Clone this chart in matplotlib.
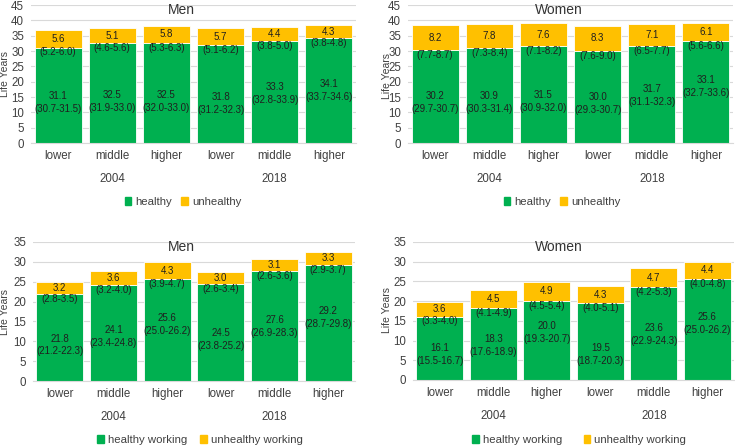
import matplotlib
matplotlib.use('Agg')
import matplotlib.pyplot as plt
from matplotlib.patches import Patch

W, H = 735, 447

categories = ['lower', 'middle', 'higher', 'lower', 'middle', 'higher']
years = ['2004', '2018']

# life expectancy split into healthy / unhealthy years (with 95% CI)
men_healthy = [31.1, 32.5, 32.5, 31.8, 33.3, 34.1]
men_healthy_ci = ['30.7-31.5', '31.9-33.0', '32.0-33.0', '31.2-32.3', '32.8-33.9', '33.7-34.6']
men_unhealthy = [5.6, 5.1, 5.8, 5.7, 4.4, 4.3]
men_unhealthy_ci = ['5.2-6.0', '4.6-5.6', '5.3-6.3', '5.1-6.2', '3.8-5.0', '3.8-4.8']

women_healthy = [30.2, 30.9, 31.5, 30.0, 31.7, 33.1]
women_healthy_ci = ['29.7-30.7', '30.3-31.4', '30.9-32.0', '29.3-30.7', '31.1-32.3', '32.7-33.6']
women_unhealthy = [8.2, 7.8, 7.6, 8.3, 7.1, 6.1]
women_unhealthy_ci = ['7.7-8.7', '7.3-8.4', '7.1-8.2', '7.6-9.0', '6.5-7.7', '5.6-6.6']

# working life years
men_hw = [21.8, 24.1, 25.6, 24.5, 27.6, 29.2]
men_hw_ci = ['21.2-22.3', '23.4-24.8', '25.0-26.2', '23.8-25.2', '26.9-28.3', '28.7-29.8']
men_uw = [3.2, 3.6, 4.3, 3.0, 3.1, 3.3]
men_uw_ci = ['2.8-3.5', '3.2-4.0', '3.9-4.7', '2.6-3.4', '2.6-3.6', '2.9-3.7']

women_hw = [16.1, 18.3, 20.0, 19.5, 23.6, 25.6]
women_hw_ci = ['15.5-16.7', '17.6-18.9', '19.3-20.7', '18.7-20.3', '22.9-24.3', '25.0-26.2']
women_uw = [3.6, 4.5, 4.9, 4.3, 4.7, 4.4]
women_uw_ci = ['3.3-4.0', '4.1-4.9', '4.5-5.4', '4.0-5.1', '4.2-5.3', '4.0-4.8']

# where the healthy labels sit inside the green bars (hand placed in the original)
lab_y_men = [15.3, 15.65, 15.65, 15.1, 18.2, 19.2]
lab_y_women = [15.2, 15.2, 15.7, 15.0, 17.6, 20.4]
lab_y_men_w = [10.7, 12.8, 15.9, 12.0, 15.3, 17.7]
lab_y_women_w = [8.2, 10.5, 13.7, 8.0, 13.1, 16.0]

GREEN = '#00B050'
YELLOW = '#FFC000'
TXT = '#404040'
LAB = '#1f1f1f'
LAB_SIZE = 7.0

plt.rcParams['font.family'] = ['Liberation Sans', 'DejaVu Sans']

fig = plt.figure(figsize=(W / 100, H / 100), dpi=100)


def px_axes(left, top, right, bottom):
    return fig.add_axes([left / W, 1 - bottom / H, (right - left) / W, (bottom - top) / H])


def panel(box, healthy, h_ci, unhealthy, u_ci, lab_y, ymax, title, title_xy,
          ylab_xy, names, legend_xy, colspace):
    ax = px_axes(*box)
    x = list(range(len(categories)))
    ax.bar(x, healthy, width=0.87, color=GREEN, edgecolor='white', linewidth=0.6, zorder=2)
    ax.bar(x, unhealthy, width=0.87, bottom=healthy, color=YELLOW, edgecolor='white',
           linewidth=0.6, zorder=2)
    ax.set_xlim(-0.5, len(x) - 0.5)
    ax.set_ylim(0, ymax)
    ax.set_yticks(range(0, ymax + 1, 5))
    ax.set_xticks(x)
    ax.set_xticklabels(categories)
    ax.tick_params(axis='x', length=0, pad=5, labelsize=8.3, colors=TXT)
    ax.tick_params(axis='y', length=0, pad=5, labelsize=8.3, colors=TXT)
    ax.grid(axis='y', color='#d9d9d9', linewidth=0.8, zorder=0)
    ax.set_axisbelow(True)
    for s in ['top', 'right', 'left']:
        ax.spines[s].set_visible(False)
    ax.spines['bottom'].set_color('#d9d9d9')

    for i in x:
        ax.annotate(f'{healthy[i]:.1f}', (i, lab_y[i]), ha='center', va='center',
                    fontsize=LAB_SIZE, color=LAB, zorder=3)
        ax.annotate(f'({h_ci[i]})', (i, lab_y[i]), xytext=(0, -9.3), textcoords='offset points',
                    ha='center', va='center', fontsize=LAB_SIZE, color=LAB, zorder=3)
        ax.annotate(f'{unhealthy[i]:.1f}', (i, healthy[i] + unhealthy[i] / 2), ha='center',
                    va='center', fontsize=LAB_SIZE, color=LAB, zorder=3)
        ax.annotate(f'({u_ci[i]})', (i, healthy[i]), xytext=(0, -3.5), textcoords='offset points',
                    ha='center', va='center', fontsize=LAB_SIZE, color=LAB, zorder=3)

    for j, yr in enumerate(years):
        ax.annotate(yr, (1 + 3 * j, 0), xycoords=('data', 'axes fraction'), xytext=(0, -26),
                    textcoords='offset points', ha='center', va='center', fontsize=8.3, color=TXT)

    fig.text(title_xy[0] / W, 1 - title_xy[1] / H, title, ha='center', va='center',
             fontsize=10, color='#333333')
    fig.text(ylab_xy[0] / W, 1 - ylab_xy[1] / H, 'Life Years', rotation=90, ha='center',
             va='center', fontsize=7.5, color=TXT)
    handles = [Patch(color=GREEN, label=names[0]), Patch(color=YELLOW, label=names[1])]
    fig.legend(handles=handles, loc='center', ncol=2, frameon=False, fontsize=8.2,
               bbox_to_anchor=(legend_xy[0] / W, 1 - legend_xy[1] / H),
               handlelength=0.6, handleheight=0.6, handletextpad=0.35,
               columnspacing=colspace, labelcolor=TXT)
    return ax


panel((31, 5, 356, 143), men_healthy, men_healthy_ci, men_unhealthy, men_unhealthy_ci,
      lab_y_men, 45, 'Men', (181, 10), (5, 74), ['healthy', 'unhealthy'], (183, 202), 0.8)
panel((408, 5, 733, 143), women_healthy, women_healthy_ci, women_unhealthy, women_unhealthy_ci,
      lab_y_women, 45, 'Women', (559, 10), (387, 76), ['healthy', 'unhealthy'], (562, 202), 0.8)
panel((33, 242, 355, 381), men_hw, men_hw_ci, men_uw, men_uw_ci,
      lab_y_men_w, 35, 'Men', (181, 247), (5, 312),
      ['healthy working', 'unhealthy working'], (200, 440), 1.1)
panel((413, 242, 734, 380), women_hw, women_hw_ci, women_uw, women_uw_ci,
      lab_y_women_w, 35, 'Women', (559, 247), (387, 310),
      ['healthy working', 'unhealthy working'], (579, 440), 1.9)

fig.savefig('out.png', dpi=100)
